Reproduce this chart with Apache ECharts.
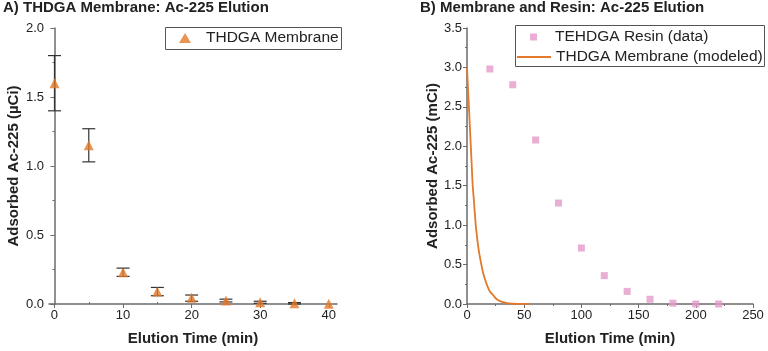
<!DOCTYPE html>
<html>
<head>
<meta charset="utf-8">
<script src="https://cdn.jsdelivr.net/npm/echarts@6/dist/echarts.min.js"></script>
<style>
  html, body { margin: 0; padding: 0; background: #fff; }
  #main { width: 768px; height: 351px; }
</style>
</head>
<body>
<div id="main"></div>
<script>
// panel A: membrane elution, mean with error
var memTime = [0, 5, 10, 15, 20, 25, 30, 35, 40];
var memVal  = [1.60, 1.15, 0.23, 0.09, 0.045, 0.025, 0.012, 0.005, 0.002];
var memLow  = [1.40, 1.03, 0.20, 0.06, 0.02, 0.015, 0.005, 0.0, 0.002];
var memHigh = [1.80, 1.27, 0.26, 0.12, 0.065, 0.035, 0.02, 0.01, 0.002];

// panel B: resin data and modeled membrane curve
var resinTime = [20, 40, 60, 80, 100, 120, 140, 160, 180, 200, 220];
var resinVal  = [2.98, 2.78, 2.08, 1.28, 0.71, 0.36, 0.16, 0.06, 0.01, 0.0, 0.0];
var modelTime = [0, 1, 2, 3, 4, 5, 6, 7, 8, 10, 12, 14, 16, 18, 20, 23, 26, 30, 35, 40, 45, 50, 54];
var modelVal  = [3.0, 2.7, 2.4, 2.1, 1.8, 1.5, 1.32, 1.12, 0.95, 0.71, 0.54, 0.40, 0.30, 0.22, 0.16, 0.11, 0.06, 0.03, 0.012, 0.005, 0.002, 0.001, 0.0];

var xTicksA = [0, 10, 20, 30, 40];
var xMinorA = [5, 15, 25, 35];

var orange = '#E2792B';
var pink = '#E59AC9';
var axisCol = '#6b6b6b';
var txt = '#222';
var font = 'Liberation Sans';

var myChart = echarts.init(document.getElementById('main'));

function pairs(xs, ys) {
    var out = [];
    for (var i = 0; i < xs.length; i++) out.push([xs[i], ys[i]]);
    return out;
}
var errData = [];
for (var i = 0; i < memTime.length; i++) {
    if (memHigh[i] > memLow[i]) errData.push([memTime[i], memLow[i], memHigh[i]]);
}

function yAxisCommon(max, name, idx) {
    return {
        type: 'value', gridIndex: idx, min: 0, max: max, interval: 0.5,
        name: name, nameLocation: 'middle', nameGap: idx === 0 ? 28 : 26,
        nameTextStyle: { fontFamily: font, fontWeight: 'bold', fontSize: 15, color: txt },
        axisLine: { show: true, lineStyle: { color: axisCol, width: 1.5 } },
        axisTick: { show: true, length: 4, lineStyle: { color: axisCol } },
        minorTick: { show: true, splitNumber: 2, length: 2, lineStyle: { color: axisCol } },
        splitLine: { show: false },
        axisLabel: {
            fontFamily: font, fontSize: 13, color: txt, margin: 5,
            formatter: function (v) { return v.toFixed(1); }
        }
    };
}

var legendText = { fontFamily: font, fontSize: 15.5, color: txt, lineHeight: 18 };

var option = {
    animation: false,
    backgroundColor: '#fff',
    title: [
        { text: 'A) THDGA Membrane: Ac-225 Elution', left: 3, top: 0, padding: 0,
          textStyle: { fontFamily: font, fontWeight: 'bold', fontSize: 15, color: txt } },
        { text: 'B) Membrane and Resin: Ac-225 Elution', left: 420, top: 0, padding: 0,
          textStyle: { fontFamily: font, fontWeight: 'bold', fontSize: 15, color: txt } }
    ],
    graphic: [
        { type: 'rect', shape: { x: 165.5, y: 27.5, width: 176, height: 22 },
          style: { fill: 'none', stroke: '#555', lineWidth: 1 } },
        { type: 'rect', shape: { x: 515.5, y: 25.5, width: 249, height: 41 },
          style: { fill: 'none', stroke: '#555', lineWidth: 1 } }
    ],
    legend: [
        {
            left: 179, top: 29, padding: 0,
            data: [{ name: 'THDGA Membrane', icon: 'triangle' }],
            itemWidth: 12, itemHeight: 10,
            textStyle: Object.assign({ padding: [0, 0, 0, 10] }, legendText)
        },
        {
            left: 530, top: 28, padding: 0,
            data: [{ name: 'TEHDGA Resin (data)', icon: 'rect' }],
            itemWidth: 7, itemHeight: 7,
            textStyle: Object.assign({ padding: [0, 0, 0, 13] }, legendText)
        },
        {
            left: 517, top: 48, padding: 0,
            data: [{ name: 'THDGA Membrane (modeled)', icon: 'rect' }],
            itemWidth: 34, itemHeight: 2,
            textStyle: Object.assign({ padding: [0, 0, 0, 0] }, legendText)
        }
    ],
    grid: [
        { left: 49, right: 431, top: 28, bottom: 44 },
        { left: 467, right: 15, top: 28, bottom: 45 }
    ],
    xAxis: [
        {
            type: 'value', gridIndex: 0, min: -0.8, max: 41.2,
            name: 'Elution Time (min)', nameLocation: 'middle', nameGap: 27,
            nameTextStyle: { fontFamily: font, fontWeight: 'bold', fontSize: 15, color: txt },
            axisLine: { show: true, onZero: false, lineStyle: { color: axisCol, width: 1.5 } },
            axisTick: { show: true, length: 4, customValues: xTicksA, lineStyle: { color: axisCol } },
            axisLabel: { fontFamily: font, fontSize: 13, color: txt, margin: 5, customValues: xTicksA },
            splitLine: { show: false }
        },
        {
            type: 'value', gridIndex: 0, min: -0.8, max: 41.2,
            axisLine: { show: false },
            axisTick: { show: true, length: 2, customValues: xMinorA, lineStyle: { color: axisCol } },
            axisLabel: { show: false },
            splitLine: { show: false }
        },
        {
            type: 'value', gridIndex: 1, min: 0, max: 250, interval: 50,
            name: 'Elution Time (min)', nameLocation: 'middle', nameGap: 27,
            nameTextStyle: { fontFamily: font, fontWeight: 'bold', fontSize: 15, color: txt },
            axisLine: { show: true, onZero: false, lineStyle: { color: axisCol, width: 1.5 } },
            axisTick: { show: true, length: 4, lineStyle: { color: axisCol } },
            minorTick: { show: true, splitNumber: 2, length: 2, lineStyle: { color: axisCol } },
            axisLabel: { fontFamily: font, fontSize: 13, color: txt, margin: 5 },
            splitLine: { show: false }
        }
    ],
    yAxis: [
        yAxisCommon(2.0, 'Adsorbed Ac-225 (\u00b5Ci)', 0),
        yAxisCommon(3.5, 'Adsorbed Ac-225 (mCi)', 1)
    ],
    series: [
        {
            name: 'errors', type: 'custom', xAxisIndex: 0, yAxisIndex: 0,
            data: errData, z: 2,
            renderItem: function (params, api) {
                var lo = api.coord([api.value(0), api.value(1)]);
                var hi = api.coord([api.value(0), api.value(2)]);
                var w = 6.5;
                var st = { stroke: '#333', lineWidth: 1.2 };
                return {
                    type: 'group',
                    children: [
                        { type: 'line', shape: { x1: lo[0], y1: lo[1], x2: hi[0], y2: hi[1] }, style: st },
                        { type: 'line', shape: { x1: lo[0] - w, y1: lo[1], x2: lo[0] + w, y2: lo[1] }, style: st },
                        { type: 'line', shape: { x1: hi[0] - w, y1: hi[1], x2: hi[0] + w, y2: hi[1] }, style: st }
                    ]
                };
            }
        },
        {
            name: 'THDGA Membrane', type: 'scatter', xAxisIndex: 0, yAxisIndex: 0,
            symbol: 'triangle', symbolSize: 10, z: 3,
            itemStyle: { color: orange },
            data: pairs(memTime, memVal)
        },
        {
            name: 'TEHDGA Resin (data)', type: 'scatter', xAxisIndex: 2, yAxisIndex: 1,
            symbol: 'rect', symbolSize: 7,
            itemStyle: { color: pink },
            data: pairs(resinTime, resinVal)
        },
        {
            name: 'THDGA Membrane (modeled)', type: 'line', xAxisIndex: 2, yAxisIndex: 1,
            symbol: 'none', smooth: 0.3,
            lineStyle: { color: orange, width: 1.8 },
            itemStyle: { color: orange },
            data: pairs(modelTime, modelVal)
        }
    ]
};

if (option && typeof option === "object") {
    myChart.setOption(option, true);
}
</script>
</body>
</html>
